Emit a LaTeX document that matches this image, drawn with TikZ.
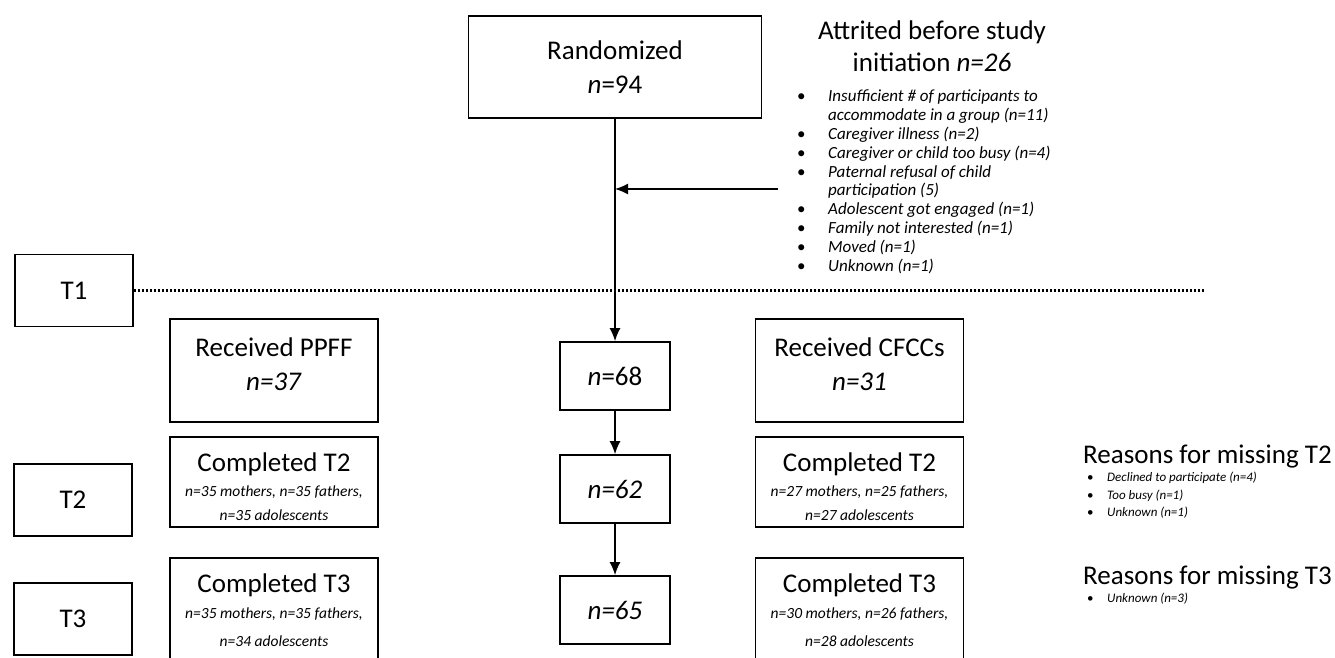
\documentclass[tikz,border=0pt]{standalone}
\usepackage{fontspec}
\setmainfont{Carlito}
\usetikzlibrary{arrows.meta}
\newcommand{\itm}[1]{\makebox[31pt][l]{\textbullet}\textit{#1}}
\newcommand{\cnt}[1]{\hspace*{31pt}\textit{#1}}
\newcommand{\itmsm}[1]{\makebox[20pt][l]{\textbullet}\textit{#1}}
\newcommand{\bigtxt}{\fontsize{27}{34}\selectfont}

\begin{document}
\begin{tikzpicture}[x=1pt, y=-1pt,
        box/.style = {draw, line width=1.8pt, align=center, inner sep=0pt,
                      font=\bigtxt},
        tbox/.style = {box, minimum width=118pt, minimum height=72pt},
        colbox/.style = {box, minimum width=208pt},
        subbox/.style = {colbox, font=\fontsize{15.5}{24}\selectfont\itshape},
        midbox/.style = {box, minimum width=110pt, minimum height=68pt},
        head/.style = {align=center, inner sep=0pt, font=\fontsize{27}{32}\selectfont},
        list/.style = {align=left, inner sep=0pt, font=\fontsize{17}{18.8}\selectfont},
        smlist/.style = {align=left, inner sep=0pt, font=\fontsize{13}{17.5}\selectfont},
        arr/.style = {line width=1.4pt, -{Latex[length=13pt,width=11pt]}},
        dots/.style = {line width=2.6pt, dash pattern=on 2pt off 2pt}
    ]
    \clip (0,0) rectangle (1335,657);

    % top of the chart
    \node[box, minimum width=293pt, minimum height=102pt] (A1) at (615,67)
        {Randomized\\\textit{n}=94};
    \node[head] (H1) at (932,46) {Attrited before study\\initiation \textit{n=26}};
    \node[list, anchor=north west] (L1) at (797,90) {%
        \itm{Insufficient \# of participants to}\\
        \cnt{accommodate in a group (n=11)}\\
        \itm{Caregiver illness (n=2)}\\
        \itm{Caregiver or child too busy (n=4)}\\
        \itm{Paternal refusal of child}\\
        \cnt{participation (5)}\\
        \itm{Adolescent got engaged (n=1)}\\
        \itm{Family not interested (n=1)}\\
        \itm{Moved (n=1)}\\
        \itm{Unknown (n=1)}};

    % time points
    \node[tbox] (T1) at (74,290.5) {T1};
    \node[tbox] (T2) at (73,500) {T2};
    \node[tbox] (T3) at (73,619) {T3};
    \coordinate (T1e) at (1205,290.5);
    \draw[dots] (T1.east) -- (T1e);

    % left column
    \node[colbox, minimum height=103pt] (B1) at (274,370.5)
        {Received PPFF\\\textit{n=37}\rule[-12pt]{0pt}{12pt}};
    \node[subbox, minimum height=90pt] (B2) at (274,482)
        {{\bigtxt\upshape\rule{0pt}{28pt}Completed T2}\\[1pt]n=35 mothers, n=35 fathers,\\n=35 adolescents};
    \node[subbox, minimum height=112pt] (B3) at (274,614)
        {{\bigtxt\upshape Completed T3}\\[2pt]n=35 mothers, n=35 fathers,\\[4pt]n=34 adolescents\rule[-8pt]{0pt}{8pt}};

    % middle column
    \node[midbox] (C1) at (615,376) {\textit{n}=68};
    \node[midbox] (C2) at (615,489) {\textit{n=62}};
    \node[midbox] (C3) at (615,610) {\textit{n=65}};

    % right column
    \node[colbox, minimum height=103pt] (D1) at (859.5,370.5)
        {Received CFCCs\\\textit{n=31}\rule[-12pt]{0pt}{12pt}};
    \node[subbox, minimum height=90pt] (D2) at (859.5,482)
        {{\bigtxt\upshape\rule{0pt}{28pt}Completed T2}\\[1pt]n=27 mothers, n=25 fathers,\\n=27 adolescents};
    \node[subbox, minimum height=112pt] (D3) at (859.5,614)
        {{\bigtxt\upshape Completed T3}\\[2pt]n=30 mothers, n=26 fathers,\\[4pt]n=28 adolescents\rule[-8pt]{0pt}{8pt}};

    % reasons for missing
    \node[head, anchor=west] (H2) at (1083,457) {Reasons for missing T2};
    \node[smlist, anchor=north west] (L2) at (1087,472) {%
        \itmsm{Declined to participate (n=4)}\\
        \itmsm{Too busy (n=1)}\\
        \itmsm{Unknown (n=1)}};
    \node[head, anchor=west] (H3) at (1083,578) {Reasons for missing T3};
    \node[smlist, anchor=north west] (L3) at (1087,593) {%
        \itmsm{Unknown (n=3)}};

    % connectors
    \coordinate (E0) at (778,189);
    \draw[arr] (A1.south) -- (C1.north);
    \draw[arr] (E0) -- (E0 -| A1.south);
    \draw[arr] (C1) -- (C2);
    \draw[arr] (C2) -- (C3);
\end{tikzpicture}
\end{document}
